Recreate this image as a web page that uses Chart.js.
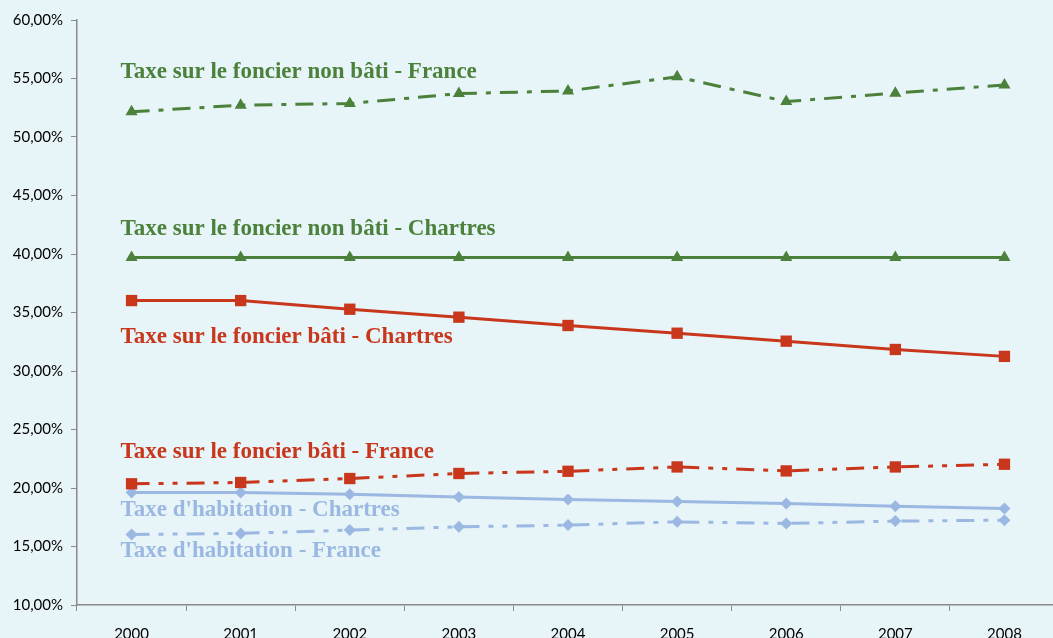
<!DOCTYPE html>
<html>
<head>
<meta charset="utf-8">
<script src="https://cdn.jsdelivr.net/npm/chart.js@4/dist/chart.umd.min.js"></script>
<style>
    html, body { margin: 0; padding: 0; overflow: hidden; background: #e7f4f8; }
    #wrap { width: 1067px; height: 638px; }
</style>
</head>
<body>
<div id="wrap"><canvas id="taxChart" width="1067" height="638"></canvas></div>
<script>
const years = ["2000", "2001", "2002", "2003", "2004", "2005", "2006", "2007", "2008"];

const nonBatiFrance = [52.15, 52.72, 52.86, 53.71, 53.94, 55.14, 53.03, 53.75, 54.45];
const nonBatiChartres = [39.7, 39.7, 39.7, 39.7, 39.7, 39.7, 39.7, 39.7, 39.7];
const batiChartres = [36.02, 36.02, 35.28, 34.6, 33.89, 33.23, 32.55, 31.84, 31.25];
const batiFrance = [20.36, 20.47, 20.81, 21.24, 21.43, 21.8, 21.46, 21.8, 22.03];
const habitationChartres = [19.62, 19.62, 19.47, 19.24, 19.02, 18.85, 18.68, 18.45, 18.25];
const habitationFrance = [16.03, 16.12, 16.4, 16.68, 16.83, 17.11, 16.97, 17.17, 17.25];

const yTicks = [10, 15, 20, 25, 30, 35, 40, 45, 50, 55, 60];

const colors = {
    green: "#4b813a",
    red: "#c8361c",
    blue: "#9bb8e2"
};

const dashDot = [18, 9, 5, 9];
const dashDotDot = [18, 9, 5, 9, 5, 9];

const makeSeries = (label, data, color, style, dash, labelDy) => ({
    label,
    data,
    borderColor: color,
    backgroundColor: color,
    borderWidth: 3,
    borderDash: dash,
    pointStyle: style,
    pointRadius: style === "rect" ? 8 : (style === "triangle" ? 7 : 6),
    pointBorderWidth: 0,
    tension: 0,
    labelDy
});

// draws the series names next to the first point of each line
const seriesLabels = {
    id: "seriesLabels",
    afterDatasetsDraw(chart) {
        const { ctx } = chart;
        const xScale = chart.scales.x;
        const yScale = chart.scales.y;
        ctx.save();
        ctx.font = "bold 23px 'Liberation Serif', serif";
        ctx.textBaseline = "middle";
        ctx.textAlign = "left";
        chart.data.datasets.forEach((ds) => {
            const x = xScale.getPixelForValue(0) - 11;
            const y = yScale.getPixelForValue(ds.data[0]) + ds.labelDy;
            ctx.fillStyle = ds.borderColor;
            ctx.fillText(ds.label, x, y);
        });
        ctx.restore();
    }
};

new Chart(document.getElementById("taxChart"), {
    type: "line",
    data: {
        labels: years,
        datasets: [
            makeSeries("Taxe sur le foncier non bâti - France", nonBatiFrance, colors.green, "triangle", dashDot, -40),
            makeSeries("Taxe sur le foncier non bâti - Chartres", nonBatiChartres, colors.green, "triangle", [], -28),
            makeSeries("Taxe sur le foncier bâti - Chartres", batiChartres, colors.red, "rect", [], 36),
            makeSeries("Taxe sur le foncier bâti - France", batiFrance, colors.red, "rect", dashDotDot, -32),
            makeSeries("Taxe d'habitation - Chartres", habitationChartres, colors.blue, "rectRot", [], 18),
            makeSeries("Taxe d'habitation - France", habitationFrance, colors.blue, "rectRot", dashDotDot, 17)
        ]
    },
    options: {
        responsive: false,
        animation: false,
        layout: { padding: { top: 20, left: 0, right: 0, bottom: 0 } },
        plugins: {
            legend: { display: false },
            tooltip: { enabled: false }
        },
        scales: {
            x: {
                offset: true,
                grid: {
                    offset: true,
                    drawOnChartArea: false,
                    drawTicks: true,
                    tickLength: 6,
                    color: "#8a8a8a"
                },
                border: { color: "#8a8a8a", width: 1.5 },
                ticks: {
                    color: "#000",
                    padding: 14,
                    maxRotation: 0,
                    font: { family: "Lato", size: 15 }
                },
                afterFit: (scale) => { scale.height = 33; }
            },
            y: {
                min: 10,
                max: 60,
                afterBuildTicks: (scale) => {
                    scale.ticks = yTicks.map((v) => ({ value: v }));
                },
                grid: {
                    drawOnChartArea: false,
                    drawTicks: true,
                    tickLength: 6,
                    color: "#8a8a8a"
                },
                border: { color: "#8a8a8a", width: 1.5 },
                ticks: {
                    color: "#000",
                    padding: 8,
                    font: { family: "Lato", size: 15 },
                    callback: (v) => v.toFixed(2).replace(".", ",") + "%"
                },
                afterFit: (scale) => { scale.width = 77; }
            }
        }
    },
    plugins: [seriesLabels]
});
</script>
</body>
</html>
